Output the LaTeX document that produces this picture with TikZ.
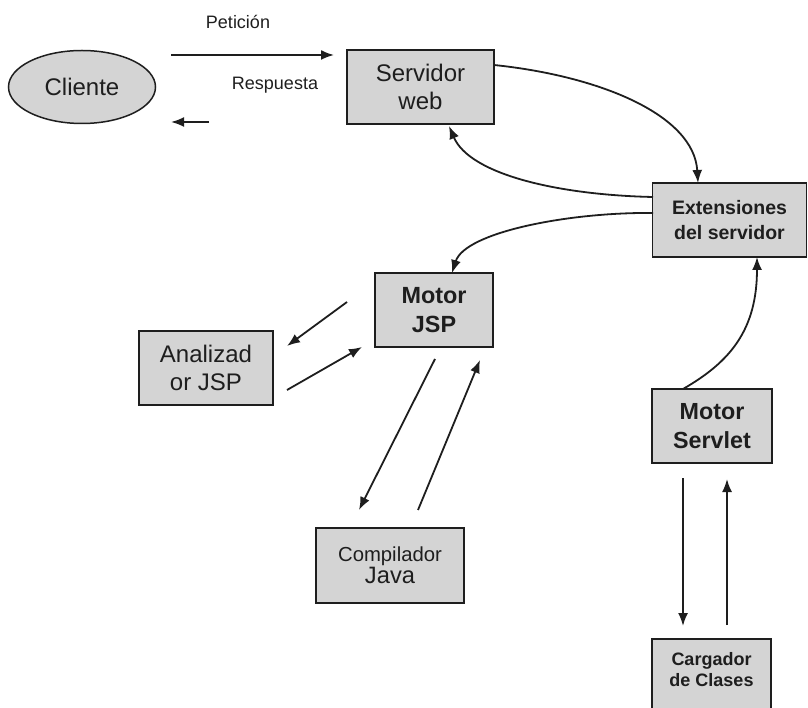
\documentclass[tikz,border=0pt]{standalone}
\usepackage{fontspec}
\setmainfont{Liberation Sans}
\usetikzlibrary{arrows.meta,shapes.geometric}
\definecolor{boxfill}{RGB}{212,212,212}
\definecolor{ink}{RGB}{30,30,30}
\tikzset{
  box/.style={draw=ink, line width=1.5pt, fill=boxfill, rectangle, inner sep=0pt,
              align=center, text=ink},
  conn/.style={draw=ink, line width=1.8pt, -{Latex[length=13pt,width=10pt]}},
  lbl/.style={text=ink, font=\fontsize{18}{21}\selectfont}
}
\begin{document}
\begin{tikzpicture}[x=1pt,y=-1pt]
\useasboundingbox (0,0) rectangle (808,708);
\clip (0,0) rectangle (808,708);

% nodes
\node[draw=ink, line width=1.5pt, fill=boxfill, ellipse, minimum width=147pt, minimum height=73pt,
      inner sep=0pt, text=ink, font=\fontsize{24}{28}\selectfont] (cli) at (82,87) {Cliente};
\node[box, minimum width=147pt, minimum height=74pt, font=\fontsize{24}{28}\selectfont]
  (web) at (420.5,87) {Servidor\\web};
\node[box, minimum width=154pt, minimum height=74pt, font=\bfseries\fontsize{19.5}{25}\selectfont]
  (ext) at (729.5,220) {Extensiones\\del servidor};
\node[box, minimum width=118pt, minimum height=74pt, font=\bfseries\fontsize{23.4}{29}\selectfont]
  (jsp) at (434,310) {Motor\\JSP};
\node[box, minimum width=134pt, minimum height=74pt, font=\fontsize{24}{28}\selectfont]
  (ana) at (206,368) {Analizad\\or JSP};
\node[box, minimum width=148pt, minimum height=75pt]
  (comp) at (390,565.5) {{\fontsize{20.3}{26}\selectfont Compilador}\\{\fontsize{23.7}{26}\selectfont Java}};
\node[box, minimum width=120pt, minimum height=74pt, font=\bfseries\fontsize{23.3}{29}\selectfont]
  (srv) at (712,426) {Motor\\Servlet};
\node[box, minimum width=119pt, minimum height=74pt] (carg) at (711.5,676) {};
\node[text=ink, align=center, font=\bfseries\fontsize{18}{21}\selectfont] (cargtxt) at (711.5,670)
  {Cargador\\de Clases};

% labels of the request / response pair
\node[lbl] (pet) at (238,22) {Petición};
\node[lbl] (resp) at (275,85) {Respuesta};

% free ends of the straight connectors
\coordinate (p1) at (171,55);   \coordinate (p2) at (334,55);
\coordinate (r1) at (209,122);  \coordinate (r2) at (171,122);
\coordinate (a1) at (347,302);  \coordinate (a2) at (287,346);
\coordinate (b1) at (287,390);  \coordinate (b2) at (362,347);
\coordinate (c1) at (435,359);  \coordinate (c2) at (359,510);
\coordinate (d1) at (418,510);  \coordinate (d2) at (480,360);
\coordinate (e1) at (683,478);  \coordinate (e2) at (683,626);
\coordinate (f1) at (727,625);  \coordinate (f2) at (727,479);

\draw[conn] (p1) -- (p2);
\draw[conn] (r1) -- (r2);
\draw[conn] (a1) -- (a2);
\draw[conn] (b1) -- (b2);
\draw[conn] (c1) -- (c2);
\draw[conn] (d1) -- (d2);
\draw[conn] (e1) -- (e2);
\draw[conn] (f1) -- (f2);

% curved connectors between the server pieces
\coordinate (w1) at (494,65);   \coordinate (w2) at (698,183);
\draw[conn] (w1) .. controls (600,76) and (694,115) .. (w2);
\coordinate (x1) at (653,197);  \coordinate (x2) at (449,126);
\draw[conn] (x1) .. controls (560,195) and (470,175) .. (x2);
\coordinate (y1) at (653,213);  \coordinate (y2) at (452,273);
\draw[conn] (y1) .. controls (570,212) and (465,232) .. (y2);
\coordinate (z1) at (683,389);  \coordinate (z2) at (757,257);
\draw[conn] (z1) .. controls (730,362) and (757,330) .. (z2);
\end{tikzpicture}
\end{document}
